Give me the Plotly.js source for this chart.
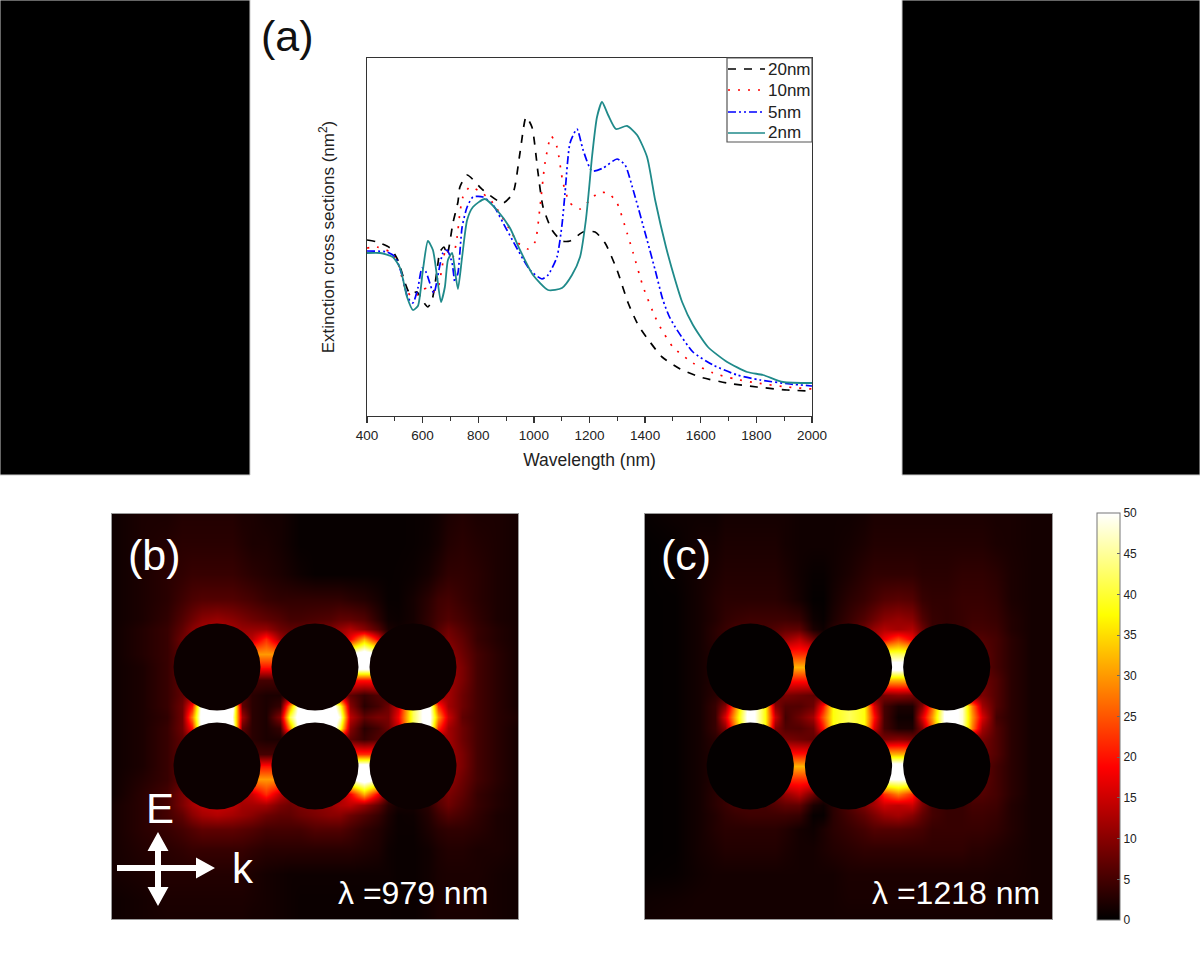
<!DOCTYPE html>
<html><head><meta charset="utf-8">
<script src="https://cdn.plot.ly/plotly-3.0.1.min.js"></script>
<style>html,body{margin:0;padding:0;background:#fff}#plot{width:1200px;height:975px}</style>
</head><body><div id="plot"></div>
<script>
const w20=[400,436,483,511,537,555,580,598,619,634,652,662,677,688,709,727,734,760,817,889,925,950,972,993,1015,1033,1065,1101,1130,1177,1220,1256,1299,1339,1375,1407,1461,1526,1597,1695,1802,1910,2000];
const v20=[176,174,168,156,133,122,124,116,109,116,146,164,169,161,193,214,229,241,226,213,223,263,299,289,243,209,186,175,175,184,184,173,146,113,91,78,59,47,39,33,29,26,25];
const w10=[400,436,483,511,537,562,580,598,619,637,655,670,684,698,709,724,734,745,770,814,853,914,943,979,1004,1022,1040,1062,1083,1105,1130,1166,1202,1231,1267,1299,1335,1357,1393,1436,1454,1500,1572,1644,1723,1802,1910,2000];
const v10=[168,169,164,153,128,119,121,126,128,124,128,149,168,159,159,179,203,219,229,223,213,186,173,167,174,209,253,280,269,233,213,207,216,223,223,213,183,163,129,99,89,69,53,43,37,33,29,27];
const w5=[400,472,501,526,547,565,583,598,612,634,641,673,688,706,716,727,742,760,781,817,853,903,986,1029,1051,1083,1101,1112,1130,1155,1177,1209,1249,1299,1328,1357,1407,1436,1464,1486,1508,1572,1644,1731,1813,1921,2000];
const v5=[165,164,159,141,118,113,128,148,144,126,123,163,166,153,134,143,189,209,219,219,211,186,146,137,141,159,191,223,273,287,266,245,248,257,251,226,176,146,116,100,89,64,51,41,36,32,30];
const w2=[400,447,493,519,544,565,583,601,619,637,652,666,680,691,706,716,727,742,760,781,824,867,914,950,997,1051,1101,1137,1166,1187,1198,1209,1227,1245,1267,1295,1335,1371,1407,1436,1475,1508,1533,1572,1626,1695,1767,1824,1896,2000];
const v2=[163,163,159,148,119,106,110,146,175,166,139,114,129,156,163,146,127,159,196,209,217,206,188,166,141,126,128,141,159,196,226,259,299,314,301,287,290,281,259,216,169,136,114,91,69,54,44,41,34,33];

const seriesNames=['20nm','10nm','5nm','2nm'];
const seriesColors=['#000000','#ff0000','#0000ff','#1f8a8a'];
const seriesDash=['8px,8px','2px,8px','8px,3px,2px,3px,2px,3px','solid'];
const xTicks=[400,600,800,1000,1200,1400,1600,1800,2000];

const fieldX=[0,30,55,70,80,90,105,120,130,140,154,168,178,188,203,218,228,238,252,266,276,286,301,316,326,336,350,365,385,406];
const fieldY=[0,30,60,85,105,115,125,140,153,166,181,192,203,214,225,240,252,265,280,291,301,315,335,360,385,405];
const circleX=[105,203,301];
const circleY=[153,252];
const circleR=43.5;

const fieldB=[
[1,2,2,2.5,2.5,2.5,2.5,2.5,2,2,1.5,1.5,1,.5,.5,.5,.5,.5,.5,.5,.5,.5,.6,.8,1.2,2,2.5,2,2,1.5],
[1,2,2.5,3,3,3,3,3,2.5,2,2,1.5,1,.5,.5,.5,.5,.5,.5,.5,.5,.5,.6,.9,1.5,2.5,3,2.5,2,1.5],
[1,2,3,3.5,4,4,4,4,3.5,3,2.5,2,1.5,1,.5,.5,.5,.5,.5,.5,.5,.6,.8,1.5,2.5,3.5,3.5,3,2,1.5],
[1,2,3,4.5,5.5,6,6,6,5.5,5,4,3.5,3.5,3.5,3.5,3.5,3.5,3,2.5,1.5,.6,.6,1.5,3,4.5,5,4,3,2,1.5],
[1,2,3.5,6,8,10,11,10,9,8,7,6,5,5,5.5,6,7,7,6,3,1,.8,1.5,3.5,5,6,5,3.5,2,1.5],
[1,2.5,4,7,10,12,13,12,11,11,11,8,7,7,8,9,11,13,10,6,2,1.2,2,3,6,8,6,4,2.5,1.5],
[1,2.5,4,8,10,12,12,12,12,14,22,12,8,7,7,8,10,18,32,18,5,3,2,3,7,9,7,4,2.5,1.5],
[1,2.5,4,7,9,10,10,12,18,30,30,30,8,6,6,8,14,50,55,50,6,3,2,3,7,11,8,5,3,1.5],
[1,2,4,7,8,8,8,10,12,20,20,20,6,5,5,8,14,55,55,55,6,3,2,4,8,12,9,5,3,1.5],
[1,2,4,7,8,8,8,8,7,5,5,5,5,5,5,8,14,20,20,20,6,4,3,5,9,12,9,5,3,1.5],
[1,2,4,7,10,9,8,7,6,3,2,2,5,6,6,9,12,7,4,6,5,5,5,6,10,12,8,5,3,1.5],
[1,2,4,8,20,55,55,55,7,3,2,4,30,55,60,60,40,10,3,5,8,15,42,55,22,12,8,5,3,1.5],
[1,2,3.5,8,28,55,55,50,12,3,2,10,42,55,60,60,48,14,7,9,9,18,42,55,30,15,7,5,3,2],
[1,2,4,8,20,55,55,55,7,3,2,4,30,55,60,60,40,10,3,5,8,15,42,55,22,12,8,5,3,1.5],
[1,2,4,7,10,9,8,7,6,3,2,2,5,6,6,9,12,7,4,6,5,5,5,6,10,12,8,5,3,1.5],
[1,2,4,7,8,8,8,8,7,5,5,5,5,5,5,8,14,22,22,22,6,4,3,5,9,12,9,5,3,1.5],
[1,2,4,7,8,8,8,10,12,20,20,20,6,5,5,8,14,55,55,55,6,3,2,4,8,12,9,5,3,1.5],
[1,2.5,4,7,9,10,10,12,18,30,30,30,8,6,6,8,14,50,55,50,6,3,2,3,7,11,8,5,3,1.5],
[1,3,5,9,12,13,13,13,13,15,22,14,10,9,9,10,12,18,32,18,6,3,2,3,7,9,7,4,2.5,1.5],
[1.5,3,5,9,12,14,15,14,12,12,12,9,8,9,10,11,13,14,11,7,3,1.5,1.5,3,6,8,6,4,2.5,1.5],
[1.5,3,5,7,10,12,13,12,11,10,8,7,7,8,9,10,10,8,6,4,2,.8,1,2.5,4.5,6,5,3.5,2,1.5],
[1.5,3,4,5,6,7,7,7,6.5,6,5,5,5,5,6,6,6,5,3.5,2.5,1.5,.8,.8,2,3,3.5,3.5,3,2,1.5],
[1.5,2.5,3,3.5,4,4,4,4,4,3.5,3,3,3,3,3,3,3,3,2.5,2,1,.7,.7,1.2,2,2.5,2.5,2,2,1.5],
[1.5,2,2.5,2.5,2.5,2.5,2.5,2.5,2.5,2,1.5,1.2,1,1,1,1,1,1,1,1,1,.7,.7,1.2,1.8,2,2,2,1.5,1.2],
[1,1.5,2,2,2,2,2,2,2,1.8,1.5,1.2,1,.8,.8,.8,.8,.8,.8,.8,.8,.7,.7,1.2,1.8,2,2,1.8,1.5,1.2],
[1,1.5,1.8,1.8,1.8,1.8,1.8,1.8,1.8,1.5,1.5,1.2,1,.8,.8,.8,.8,.8,.8,.8,.8,.7,.7,1.2,1.8,1.8,1.8,1.8,1.5,1.2]
];
const fieldC=[
[.5,1,1,1,1.5,1.5,1.5,1.5,1.5,1.5,1.2,1.2,1.2,1.2,1.2,1.5,2,2,2,2,2,2,2,2,2,2,1.8,1.8,1.5,1.5],
[.2,.5,1.5,1.5,2,2,2,2,2,1.5,1.2,1.2,1.2,1.2,1.5,2,2.5,2.5,2.5,2.5,2.5,2.5,2.5,2.5,2.5,2.5,2,1.8,1.5,1.5],
[.2,.5,1.5,2,2.5,2.5,2.5,2.5,2.5,2,1.2,.6,.6,1.2,2,3,3.5,3.5,3.5,3.5,3,3,3,3.5,3.5,3.5,3,2,1.5,1.5],
[.2,.3,1.5,2.5,3,3,3,3,3,2.5,1.5,.3,.3,1.5,3,4,5,6,6.5,6,4,3.5,3.5,4,4,4,3.5,2,1.5,1.5],
[.2,.3,1.5,2.5,3.5,4,4.5,4.5,4.5,4.5,4,1,.5,2,4,6,8,10,11,10,6,4,3.5,4,4.5,4.5,4,2.5,1.5,1.5],
[.2,.3,1.5,3,4,5,5,5,6,7,7,2,1,3,5,8,11,13,12,13,8,4,4,4,5,5,4.5,2.5,1.5,1.5],
[.2,.3,1.5,3,4,5,5,6,8,11,14,8,4,4,6,8,12,18,24,18,10,4,4,4,6,6,5,3,1.5,1.5],
[.2,.3,1.5,2.5,4,4,5,6,12,22,22,22,6,4,5,8,14,42,42,42,10,4,3,4,6,7,5,3,1.5,1.5],
[.2,.3,1.5,2.5,3.5,4,4,6,12,32,32,32,6,4,5,8,14,55,55,55,10,3,3,4,6,7,5,3,1.5,1.5],
[.2,.3,1.5,2.5,3.5,4,4,5,10,20,20,20,7,5,5,7,12,32,32,32,10,4,3,5,7,8,6,3,1.5,1.5],
[.2,.3,1.5,3,4,4,4,5,7,9,8,7,7,7,7,7,7,9,10,9,5,5,5,5,7,9,6,3,1.5,1.5],
[.2,.3,1.5,4,10,28,55,38,10,6,6,8,20,38,42,38,16,5,2,2,10,26,55,48,28,12,6,3,1.5,1.5],
[.2,.3,1.5,4,16,32,55,38,15,5,8,12,25,38,42,38,20,5,1,1,16,30,55,48,30,16,5,3,1.5,1.5],
[.2,.3,1.5,4,10,28,55,38,10,6,6,8,20,38,42,38,16,5,2,2,10,26,55,48,28,12,6,3,1.5,1.5],
[.2,.3,1.5,3,4,4,4,5,7,9,8,7,7,7,7,7,7,9,10,9,5,5,5,5,7,9,6,3,1.5,1.5],
[.2,.3,1.5,2.5,3.5,4,4,5,10,20,20,20,7,5,5,7,12,32,32,32,10,4,3,5,7,8,6,3,1.5,1.5],
[.2,.3,1.5,2.5,3.5,4,4,6,12,32,32,32,6,4,5,8,14,55,55,55,10,3,3,4,6,7,5,3,1.5,1.5],
[.2,.3,1.5,2.5,4,4,5,6,12,22,22,22,6,4,5,8,14,50,50,50,10,4,3,4,6,7,5,3,1.5,1.5],
[.2,.3,1.5,3,4,5,5,6,8,11,14,8,4,4,6,8,12,22,28,22,10,5,4,4,6,6,5,3,1.5,1.5],
[.2,.3,1.5,3,4,5,5,5,6,7,7,2,1,3,6,9,12,15,14,15,9,5,4,4,5,5,4.5,2.5,1.5,1.5],
[.2,.3,1.5,2.5,3.5,4,4.5,4.5,4.5,4.5,4,.5,.5,3,5,7,9,11,12,10,7,5,4,4,4.5,4.5,4,2.5,1.5,1.5],
[.2,.3,1.5,2.5,3,3,3,3,3,2.5,1.5,1,2,3,4,5,6,6,6,5.5,5,4,4,4,4,4,3.5,2.5,1.5,1.5],
[.2,.3,1.5,2,2.5,2.5,2.5,2.5,2.5,2,1.5,1.5,2,2.5,3,3.5,3.5,3.5,3.5,3.5,3.5,3.5,3.5,3.5,3,3,2.5,2,1.5,1.5],
[.3,.5,1.2,1.5,1.5,1.5,1.5,1.5,1.5,1.5,1.5,1.5,1.5,1.5,2,2,2,2,2,2,2,2,2,2,2,2,1.8,1.8,1.5,1.5],
[1,1.2,1.5,1.5,1.5,1.5,1.5,1.5,1.5,1.5,1.5,1.5,1.5,1.5,1.8,1.8,1.8,1.8,1.8,1.8,1.8,1.8,1.8,1.8,1.8,1.8,1.5,1.5,1.5,1.5],
[1.2,1.5,1.5,1.5,1.5,1.5,1.5,1.5,1.5,1.5,1.5,1.5,1.5,1.5,1.5,1.5,1.5,1.5,1.5,1.5,1.5,1.5,1.5,1.5,1.5,1.5,1.5,1.5,1.5,1.5]
];
const colorTicks=[0,5,10,15,20,25,30,35,40,45,50];
const hot=[[0,'#000000'],[0.375,'#ff0000'],[0.75,'#ffff00'],[1,'#ffffff']];

const W=1200,H=975,font='"Liberation Sans", Arial, sans-serif';
const dx=(a,b)=>[a/W,b/W], dy=(top,bot)=>[1-bot/H,1-top/H];
const px=x=>x/W, py=y=>1-y/H;

const data=[
 ...[[w20,v20],[w10,v10],[w5,v5],[w2,v2]].map(([x,y],i)=>({
   type:'scatter',mode:'lines',x,y,name:seriesNames[i],xaxis:'x',yaxis:'y',showlegend:false,
   line:{color:seriesColors[i],dash:seriesDash[i],width:i==3?1.8:1.7,shape:'spline',smoothing:0.6}
 })),
 {type:'heatmap',x:fieldX,y:fieldY,z:fieldB,xaxis:'x2',yaxis:'y2',zsmooth:'best',zmin:0,zmax:50,colorscale:hot,showscale:false},
 {type:'heatmap',x:fieldX,y:fieldY,z:fieldC,xaxis:'x3',yaxis:'y3',zsmooth:'best',zmin:0,zmax:50,colorscale:hot,
  colorbar:{x:px(1097),xanchor:'left',y:py(920),yanchor:'bottom',lenmode:'pixels',len:407,thicknessmode:'pixels',thickness:23,
    tickvals:colorTicks,ticks:'inside',ticklen:3,tickcolor:'#666',outlinecolor:'#777',outlinewidth:1,xpad:0,ypad:0,
    tickfont:{family:font,size:12,color:'#222'}}}
];

const shapes=[
 {type:'rect',xref:'paper',yref:'paper',x0:0,x1:px(250),y0:py(475),y1:1,fillcolor:'#000',line:{color:'#ccc',width:1},layer:'below'},
 {type:'rect',xref:'paper',yref:'paper',x0:px(902),x1:1,y0:py(475),y1:1,fillcolor:'#000',line:{color:'#ccc',width:1},layer:'below'},
 {type:'rect',xref:'paper',yref:'paper',x0:px(727),x1:px(812),y0:py(142),y1:py(58),fillcolor:'#fff',line:{color:'#555',width:1.2}}
];
const rowY=[69,90,112,133];
seriesNames.forEach((n,i)=>shapes.push({type:'line',xref:'paper',yref:'paper',x0:px(728),x1:px(765),y0:py(rowY[i]),y1:py(rowY[i]),
  line:{color:seriesColors[i],dash:seriesDash[i],width:1.7}}));
[['x2','y2','#0c0000'],['x3','y3','#040000']].forEach(([xa,ya,fill])=>{
  circleX.forEach(cx=>circleY.forEach(cy=>shapes.push({type:'circle',xref:xa,yref:ya,x0:cx-circleR,x1:cx+circleR,y0:cy-circleR,y1:cy+circleR,fillcolor:fill,line:{width:0}})));
});
shapes.push({type:'path',xref:'x2',yref:'y2',path:'M5,351H84V343.5L103,354L84,364.5V357H5Z',fillcolor:'#fff',line:{width:0}});
shapes.push({type:'path',xref:'x2',yref:'y2',path:'M46,318L56.5,337H49V373H56.5L46,392L35.5,373H43V337H35.5Z',fillcolor:'#fff',line:{width:0}});

const ann=(text,x,y,size,color,anchor)=>({xref:'paper',yref:'paper',x:px(x),y:py(y),text,showarrow:false,xanchor:anchor||'center',yanchor:'middle',font:{family:font,size,color}});
const annotations=[
 ann('(a)',287,36,43,'#111'),
 ann('(b)',154,555,43,'#fff'),
 ann('(c)',686,555,43,'#fff'),
 ann('E',160,808,42,'#fff'),
 ann('k',243,868,42,'#fff'),
 ann('λ =979 nm',490,893,32,'#fff','right'),
 ann('λ =1218 nm',1042,893,32,'#fff','right')
];
seriesNames.forEach((n,i)=>annotations.push(ann(n,766,rowY[i],17,'#222','left')));

const blank=(dom,rng,anchor)=>({domain:dom,range:rng,anchor,showticklabels:false,ticks:'',showgrid:false,zeroline:false,showline:true,mirror:true,linecolor:'#999',linewidth:1});
const layout={
 width:W,height:H,margin:{l:0,r:0,t:0,b:0},paper_bgcolor:'#fff',plot_bgcolor:'#fff',showlegend:false,shapes,annotations,
 xaxis:{domain:dx(367,812),range:[400,2000],anchor:'y',tickvals:xTicks,ticks:'outside',ticklen:6,tickwidth:1.3,tickcolor:'#333',
   minor:{dtick:100,ticks:'outside',ticklen:4,tickwidth:1.1,tickcolor:'#333',showgrid:false},
   showgrid:false,zeroline:false,showline:true,mirror:true,linecolor:'#333',linewidth:1.4,
   tickfont:{family:font,size:13.5,color:'#222'},title:{text:'Wavelength (nm)',standoff:12,font:{family:font,size:17.5,color:'#222'}}},
 yaxis:{domain:dy(58,416),range:[0,358],anchor:'x',showticklabels:false,ticks:'',showgrid:false,zeroline:false,showline:true,mirror:true,linecolor:'#333',linewidth:1.4,
   title:{text:'Extinction cross sections (nm<sup>2</sup>)',standoff:26,font:{family:font,size:17,color:'#222'}}},
 xaxis2:blank(dx(112,518),[0,406],'y2'),
 yaxis2:blank(dy(514,919),[405,0],'x2'),
 xaxis3:blank(dx(645,1052),[0,406],'y3'),
 yaxis3:blank(dy(514,919),[405,0],'x3')
};
Plotly.newPlot('plot',data,layout,{displayModeBar:false,staticPlot:true});
</script></body></html>
